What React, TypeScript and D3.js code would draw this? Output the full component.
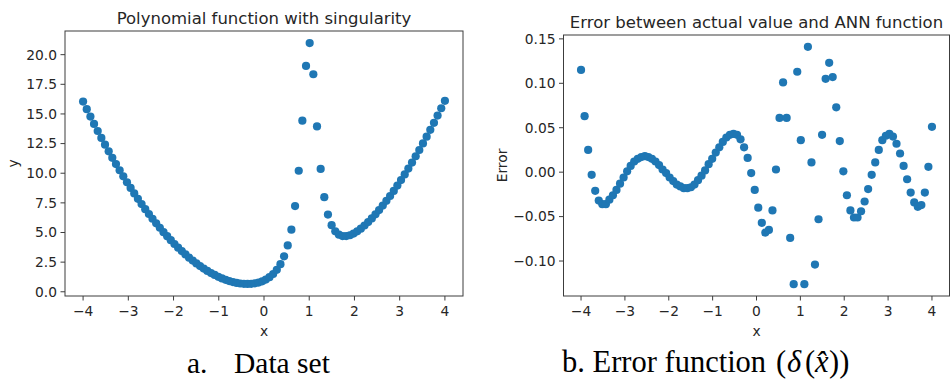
import React from 'react';
import * as d3 from 'd3';

const xValues = [
  -4, -3.919, -3.838, -3.758, -3.677, -3.596, -3.515, -3.434, -3.354, -3.273,
  -3.192, -3.111, -3.030, -2.949, -2.869, -2.788, -2.707, -2.626, -2.545, -2.465,
  -2.384, -2.303, -2.222, -2.141, -2.061, -1.980, -1.899, -1.818, -1.737, -1.657,
  -1.576, -1.495, -1.414, -1.333, -1.253, -1.172, -1.091, -1.010, -0.929, -0.848,
  -0.768, -0.687, -0.606, -0.525, -0.444, -0.364, -0.283, -0.202, -0.121, -0.040,
  0.040, 0.121, 0.202, 0.283, 0.364, 0.444, 0.525, 0.606, 0.687, 0.768,
  0.848, 0.929, 1.010, 1.091, 1.172, 1.253, 1.333, 1.414, 1.495, 1.576,
  1.657, 1.737, 1.818, 1.899, 1.980, 2.061, 2.141, 2.222, 2.303, 2.384,
  2.465, 2.545, 2.626, 2.707, 2.788, 2.869, 2.949, 3.030, 3.111, 3.192,
  3.273, 3.354, 3.434, 3.515, 3.596, 3.677, 3.758, 3.838, 3.919, 4,
];

const yValues = [
  16.04, 15.40, 14.78, 14.16, 13.56, 12.98, 12.41, 11.85, 11.30, 10.77,
  10.25, 9.74, 9.24, 8.76, 8.30, 7.84, 7.40, 6.97, 6.56, 6.16,
  5.77, 5.40, 5.03, 4.69, 4.35, 4.03, 3.72, 3.43, 3.15, 2.88,
  2.63, 2.39, 2.17, 1.96, 1.76, 1.58, 1.42, 1.26, 1.13, 1.01,
  0.90, 0.82, 0.75, 0.70, 0.67, 0.66, 0.67, 0.71, 0.78, 0.88,
  1.03, 1.23, 1.50, 1.85, 2.33, 2.99, 3.91, 5.24, 7.23, 10.21,
  14.43, 19.05, 20.98, 18.35, 13.95, 10.36, 7.98, 6.51, 5.62, 5.10,
  4.82, 4.70, 4.70, 4.77, 4.91, 5.10, 5.32, 5.59, 5.88, 6.19,
  6.53, 6.89, 7.27, 7.67, 8.08, 8.51, 8.96, 9.42, 9.90, 10.39,
  10.90, 11.43, 11.96, 12.51, 13.08, 13.66, 14.25, 14.86, 15.48, 16.11,
];

const errValues = [
  0.115, 0.063, 0.025, -0.003, -0.021, -0.032, -0.036, -0.036, -0.031, -0.026,
  -0.020, -0.013, -0.006, 0.001, 0.007, 0.012, 0.015, 0.017, 0.018, 0.017,
  0.015, 0.012, 0.008, 0.003, -0.001, -0.006, -0.010, -0.014, -0.016, -0.018,
  -0.018, -0.017, -0.014, -0.009, -0.004, 0.002, 0.009, 0.015, 0.022, 0.028,
  0.034, 0.039, 0.042, 0.043, 0.042, 0.037, 0.028, 0.016, -0.001, -0.020,
  -0.040, -0.057, -0.068, -0.065, -0.043, 0.003, 0.061, 0.101, 0.061, -0.074,
  -0.126, 0.113, 0.036, -0.126, 0.141, 0.011, -0.104, -0.053, 0.042, 0.105,
  0.123, 0.107, 0.073, 0.035, 0.001, -0.026, -0.043, -0.051, -0.051, -0.044,
  -0.033, -0.019, -0.003, 0.011, 0.025, 0.036, 0.041, 0.043, 0.040, 0.032,
  0.021, 0.007, -0.008, -0.023, -0.034, -0.039, -0.037, -0.023, 0.006, 0.051,
];

const xTicks = [-4, -3, -2, -1, 0, 1, 2, 3, 4];
const yTicksLeft = [0, 2.5, 5, 7.5, 10, 12.5, 15, 17.5, 20];
const yTicksRight = [-0.1, -0.05, 0, 0.05, 0.1, 0.15];

const titleLeft = 'Polynomial function with singularity';
const titleRight = 'Error between actual value and ANN function';

const BLUE = '#1f77b4';
const INK = '#262626';
const FRAME = '#3c3c3c';
const SANS = '"DejaVu Sans", sans-serif';
const SERIF = '"Liberation Serif", "Times New Roman", serif';

function padDomain(vals: number[]): [number, number] {
  const [mn, mx] = d3.extent(vals) as [number, number];
  const p = (mx - mn) * 0.05;
  return [mn - p, mx + p];
}

type PanelProps = {
  left: number; right: number; top: number; bottom: number;
  xs: number[]; ys: number[]; yTicks: number[]; yFmt: (n: number) => string;
  title: string; ylabel: string; ylabelX: number;
};

function Panel(p: PanelProps) {
  const x = d3.scaleLinear().domain(padDomain(p.xs)).range([p.left, p.right]);
  const y = d3.scaleLinear().domain(padDomain(p.ys)).range([p.bottom, p.top]);
  const xf = d3.format('d');
  const cx = (p.left + p.right) / 2;
  const cy = (p.top + p.bottom) / 2;
  return (
    <g>
      <text x={cx} y={p.top - 7} textAnchor="middle" fontFamily={SANS} fontSize={16.5} fill={INK}>{p.title}</text>
      {p.xs.map((xv, i) => (
        <circle key={i} cx={x(xv)} cy={y(p.ys[i])} r={4.1} fill={BLUE} />
      ))}
      <rect x={p.left} y={p.top} width={p.right - p.left} height={p.bottom - p.top} fill="none" stroke={FRAME} strokeWidth={1} />
      {xTicks.map((t) => (
        <g key={'x' + t}>
          <line x1={x(t)} x2={x(t)} y1={p.bottom} y2={p.bottom + 4.5} stroke={FRAME} strokeWidth={1} />
          <text x={x(t)} y={p.bottom + 19.5} textAnchor="middle" fontFamily={SANS} fontSize={13.8} fill={INK}>{xf(t)}</text>
        </g>
      ))}
      {p.yTicks.map((t) => (
        <g key={'y' + t}>
          <line x1={p.left - 4.5} x2={p.left} y1={y(t)} y2={y(t)} stroke={FRAME} strokeWidth={1} />
          <text x={p.left - 8} y={y(t) + 4.9} textAnchor="end" fontFamily={SANS} fontSize={13.8} fill={INK}>{p.yFmt(t)}</text>
        </g>
      ))}
      <text x={cx} y={p.bottom + 39.5} textAnchor="middle" fontFamily={SANS} fontSize={13.8} fill={INK}>x</text>
      <text transform={`translate(${p.ylabelX},${cy}) rotate(-90)`} textAnchor="middle" fontFamily={SANS} fontSize={13.8} fill={INK}>{p.ylabel}</text>
    </g>
  );
}

export default function App() {
  const cap = { fontFamily: SERIF, fontSize: 29.5, fill: '#000' };
  const capB = { fontFamily: SERIF, fontSize: 30.5, fill: '#000' };
  return (
    <svg width={952} height={381} viewBox="0 0 952 381"
      style={{ position: 'absolute', left: 0, top: 0, background: '#fff' }}>
      <rect width={952} height={381} fill="#fff" />
      <Panel left={65} right={463} top={31} bottom={296} xs={xValues} ys={yValues}
        yTicks={yTicksLeft} yFmt={d3.format('.1f')} title={titleLeft} ylabel="y" ylabelX={18} />
      <Panel left={563.5} right={949.5} top={35} bottom={296} xs={xValues} ys={errValues}
        yTicks={yTicksRight} yFmt={d3.format('.2f')} title={titleRight} ylabel="Error" ylabelX={507} />
      <text x={187} y={372.5} {...cap}>a.</text>
      <text x={234} y={372.5} {...cap}>Data set</text>
      <text x={562} y={372} {...capB}>b. Error function</text>
      <text x={776} y={372} {...capB}>(</text>
      <text x={787} y={372} {...capB} fontStyle="italic">δ</text>
      <text x={805} y={372} {...capB}>(</text>
      <text x={815} y={372} {...capB} fontStyle="italic">x̂</text>
      <text x={829} y={372} {...capB}>))</text>
    </svg>
  );
}
